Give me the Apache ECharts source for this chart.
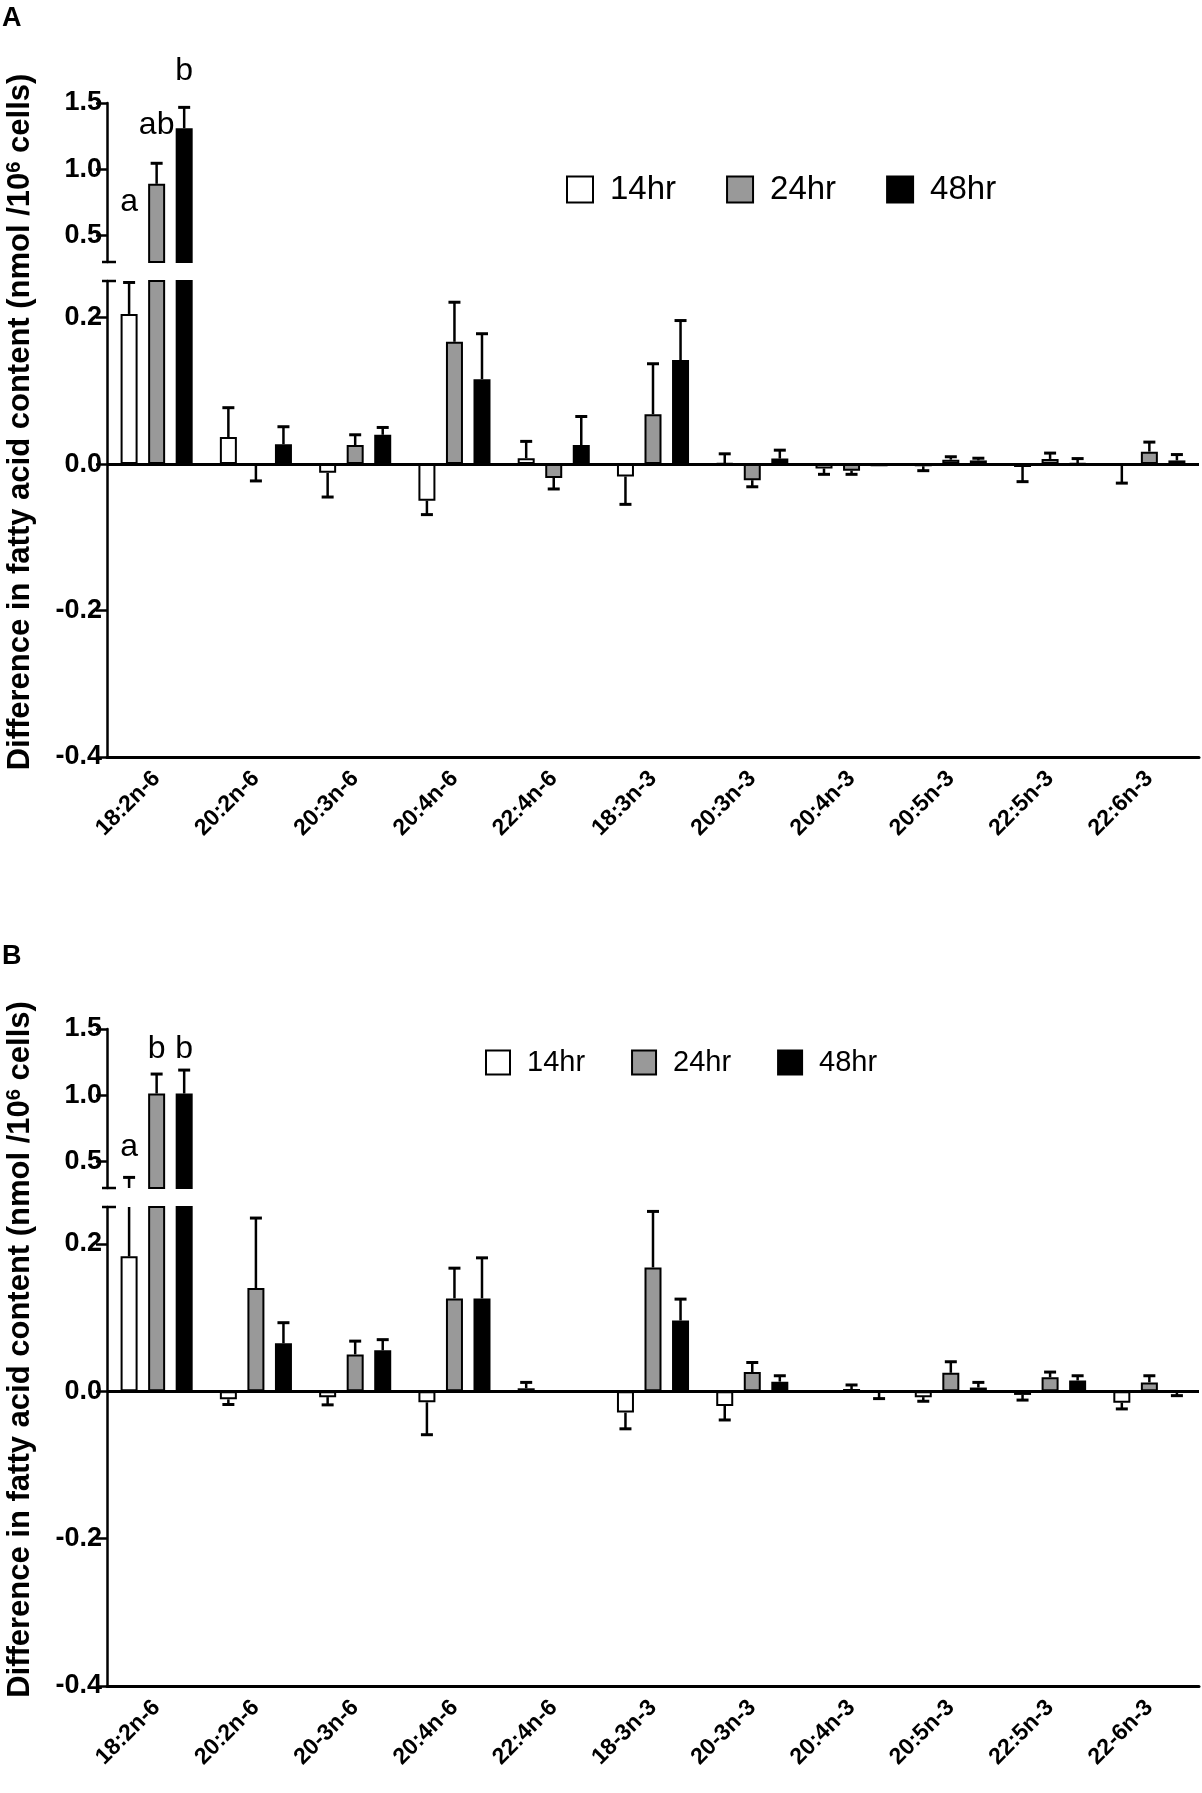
<!DOCTYPE html>
<html><head><meta charset="utf-8">
<script src="https://cdn.jsdelivr.net/npm/echarts@6/dist/echarts.min.js"></script>
<style>html,body{margin:0;padding:0;background:#fff}#c{width:1202px;height:1793px}</style>
</head><body><div id="c"></div>
<script>
// ---------------- DATA ----------------
const seriesNames = ['14hr', '24hr', '48hr'];

const categoriesA = ['18:2n-6','20:2n-6','20:3n-6','20:4n-6','22:4n-6','18:3n-3','20:3n-3','20:4n-3','20:5n-3','22:5n-3','22:6n-3'];
const mean14A = [0.205, 0.037, -0.012, -0.050, 0.008, -0.017, 0.001, -0.006, -0.003, -0.004, -0.002];
const err14A  = [0.043, 0.040, 0.033, 0.019, 0.023, 0.038, 0.013, 0.008, 0.006, 0.020, 0.024];
const mean24A = [0.89, -0.001, 0.026, 0.167, -0.019, 0.068, -0.022, -0.009, 0.006, 0.007, 0.017];
const err24A  = [0.155, 0.022, 0.014, 0.054, 0.015, 0.069, 0.009, 0.005, 0.004, 0.008, 0.013];
const mean48A = [1.31, 0.027, 0.040, 0.116, 0.026, 0.142, 0.0075, -0.003, 0.005, 0.001, 0.005];
const err48A  = [0.157, 0.024, 0.010, 0.062, 0.039, 0.054, 0.0115, 0, 0.003, 0.0065, 0.008];
const lettersA = [
  {cat: 0, s: 0, text: 'a',  y: 0.63},
  {cat: 0, s: 1, text: 'ab', y: 1.21},
  {cat: 0, s: 2, text: 'b',  y: 1.62}
];

const categoriesB = ['18:2n-6','20:2n-6','20-3n-6','20:4n-6','22:4n-6','18-3n-3','20-3n-3','20:4n-3','20:5n-3','22:5n-3','22-6n-3'];
const mean14B = [0.183, -0.011, -0.008, -0.015, 0.004, -0.029, -0.020, 0, -0.008, -0.005, -0.0155];
const err14B  = [0.197, 0.007, 0.0105, 0.044, 0.008, 0.022, 0.019, 0, 0.0056, 0.007, 0.0085];
const mean24B = [1.013, 0.140, 0.050, 0.126, 0, 0.168, 0.026, 0.003, 0.025, 0.019, 0.012];
const err24B  = [0.147, 0.095, 0.018, 0.041, 0, 0.076, 0.013, 0.0055, 0.015, 0.007, 0.009];
const mean48B = [1.013, 0.065, 0.0555, 0.126, 0, 0.096, 0.013, -0.002, 0.005, 0.0146, -0.001];
const err48B  = [0.177, 0.028, 0.0145, 0.055, 0, 0.029, 0.008, 0.008, 0.007, 0.0064, 0.005];
const lettersB = [
  {cat: 0, s: 0, text: 'a', y: 0.49},
  {cat: 0, s: 1, text: 'b', y: 1.23},
  {cat: 0, s: 2, text: 'b', y: 1.23}
];

const upperTicks = [0.5, 1.0, 1.5];
const lowerTicks = [-0.4, -0.2, 0, 0.2];

// ---------------- STYLE ----------------
const FONT = "'Liberation Sans', Arial, Helvetica, sans-serif";
const BAR_W = 17, BAR_GAP = 0.62, STEP = BAR_W * (1 + BAR_GAP), CAP = 12;
const STYLES = [
  {color: '#ffffff', borderColor: '#000', borderWidth: 2},
  {color: '#999999', borderColor: '#000', borderWidth: 2},
  {color: '#000000', borderColor: '#000', borderWidth: 2}
];

const chart = echarts.init(document.getElementById('c'), null, {renderer: 'canvas'});

const panels = [
  {cats: categoriesA, means: [mean14A, mean24A, mean48A], errs: [err14A, err24A, err48A], letters: lettersA,
   upTop: 103, lowTop: 281, lowH: 476, legendLeft: 561, legendTop: 168, legendFont: 33, icon: 26, gap: 50, tag: 'A', tagY: 5},
  {cats: categoriesB, means: [mean14B, mean24B, mean48B], errs: [err14B, err24B, err48B], letters: lettersB,
   upTop: 1029, lowTop: 1207, lowH: 479, legendLeft: 480, legendTop: 1043, legendFont: 29, icon: 24, gap: 46, tag: 'B', tagY: 943}
];
const UP_H = 159, LEFT = 107, RIGHT = 3;

const grid = [], xAxis = [], yAxis = [], series = [], legend = [], graphic = [];

function errRender(s) {
  return function (params, api) {
    const i = api.value(0), m = api.value(1), e = api.value(2);
    if (!e) return null;
    const end = m >= 0 ? m + e : m - e;
    const p0 = api.coord([i, m]);
    const p1 = api.coord([i, end]);
    const x = p0[0] + (s - 1) * STEP;
    return {type: 'group', children: [
      {type: 'line', shape: {x1: x, y1: p0[1], x2: x, y2: p1[1]}, style: {stroke: '#000', lineWidth: 2.5}},
      {type: 'line', shape: {x1: x - CAP / 2, y1: p1[1], x2: x + CAP / 2, y2: p1[1]}, style: {stroke: '#000', lineWidth: 3}}
    ]};
  };
}

function breakRender(isUpper) {
  return function (params) {
    const cs = params.coordSys;
    const y = isUpper ? cs.y + cs.height : cs.y;
    return {type: 'line', shape: {x1: cs.x - 5, y1: y, x2: cs.x + 9, y2: y}, style: {stroke: '#000', lineWidth: 2.5}};
  };
}

const tickFmt = v => Number(v).toFixed(1);

panels.forEach((p, pi) => {
  const gU = pi * 2, gL = pi * 2 + 1;
  grid.push({left: LEFT, right: RIGHT, top: p.upTop, height: UP_H});
  grid.push({left: LEFT, right: RIGHT, top: p.lowTop, height: p.lowH});

  xAxis.push({type: 'category', gridIndex: gU, data: p.cats, show: false});
  xAxis.push({type: 'category', gridIndex: gL, data: p.cats, position: 'bottom',
    axisLine: {onZero: false, lineStyle: {color: '#000', width: 3}},
    axisTick: {alignWithLabel: true, length: 12, lineStyle: {color: '#000', width: 2.5}},
    axisLabel: {interval: 0, rotate: 45, margin: 18, color: '#000', fontSize: 23, fontWeight: 'bold', fontFamily: FONT}
  });

  const yCommon = {type: 'value', splitLine: {show: false},
    axisLine: {show: true, onZero: false, lineStyle: {color: '#000', width: 2.5}},
    axisTick: {show: true, length: 11, lineStyle: {color: '#000', width: 2.5}},
    axisLabel: {margin: 5, color: '#000', fontSize: 27, fontWeight: 'bold', fontFamily: FONT, formatter: tickFmt}
  };
  yAxis.push(Object.assign({}, yCommon, {gridIndex: gU, min: 0.3, max: 1.5,
    axisTick: Object.assign({}, yCommon.axisTick, {customValues: upperTicks}),
    axisLabel: Object.assign({}, yCommon.axisLabel, {customValues: upperTicks})}));
  yAxis.push(Object.assign({}, yCommon, {gridIndex: gL, min: -0.4, max: 0.25,
    axisTick: Object.assign({}, yCommon.axisTick, {customValues: lowerTicks}),
    axisLabel: Object.assign({}, yCommon.axisLabel, {customValues: lowerTicks})}));

  [gU, gL].forEach((g, k) => {
    p.means.forEach((arr, s) => {
      const ser = {type: 'bar', name: seriesNames[s], xAxisIndex: g, yAxisIndex: g, data: arr,
        barWidth: BAR_W, barGap: (BAR_GAP * 100) + '%', clip: true, itemStyle: STYLES[s],
        emphasis: {disabled: true}, silent: true};
      if (k === 1 && s === 0) {
        ser.markLine = {silent: true, symbol: 'none', label: {show: false},
          lineStyle: {color: '#000', width: 3, type: 'solid'}, data: [{yAxis: 0}], z: 3};
      }
      series.push(ser);
    });
    p.means.forEach((arr, s) => {
      series.push({type: 'custom', xAxisIndex: g, yAxisIndex: g, clip: true, z: 5, silent: true,
        renderItem: errRender(s), data: arr.map((m, i) => [i, m, p.errs[s][i]])});
    });
    series.push({type: 'custom', xAxisIndex: g, yAxisIndex: g, clip: false, z: 5, silent: true,
      renderItem: breakRender(k === 0), data: [[0, k === 0 ? 1 : 0]]});
  });

  const letters = p.letters;
  series.push({type: 'custom', xAxisIndex: gU, yAxisIndex: gU, clip: false, z: 6, silent: true,
    data: letters.map(L => [L.cat, L.y]),
    renderItem: (params, api) => {
      const L = letters[params.dataIndex];
      const pt = api.coord([L.cat, L.y]);
      return {type: 'text', x: pt[0] + (L.s - 1) * STEP, y: pt[1],
        style: {text: L.text, fontSize: 32, fontFamily: FONT, fill: '#000', align: 'center', verticalAlign: 'bottom'}};
    }});

  legend.push({left: p.legendLeft, top: p.legendTop, orient: 'horizontal', icon: 'rect',
    itemWidth: p.icon, itemHeight: p.icon, itemGap: p.gap, selectedMode: false,
    textStyle: {fontSize: p.legendFont, color: '#000', fontFamily: FONT, padding: [0, 0, 0, 12]},
    data: seriesNames.map((n, s) => ({name: n, itemStyle: STYLES[s]}))});

  graphic.push({type: 'text', left: 2, top: p.tagY,
    style: {text: p.tag, fontSize: 27, fontWeight: 'bold', fontFamily: FONT, fill: '#000'}});
  graphic.push({type: 'text', x: 20, y: p.upTop + (p.lowTop + p.lowH - p.upTop) / 2 - 8, rotation: Math.PI / 2,
    style: {text: '{a|Difference in fatty acid content (nmol /10}{s|6}{a| cells)}',
      align: 'center', verticalAlign: 'middle',
      rich: {a: {fontSize: 31, fontWeight: 'bold', fontFamily: FONT, fill: '#000', color: '#000'},
             s: {fontSize: 20, fontWeight: 'bold', fontFamily: FONT, fill: '#000', color: '#000', verticalAlign: 'top'}}}});
});

chart.setOption({
  animation: false,
  backgroundColor: '#ffffff',
  textStyle: {fontFamily: FONT},
  grid, xAxis, yAxis, series, legend, graphic
});
</script></body></html>
